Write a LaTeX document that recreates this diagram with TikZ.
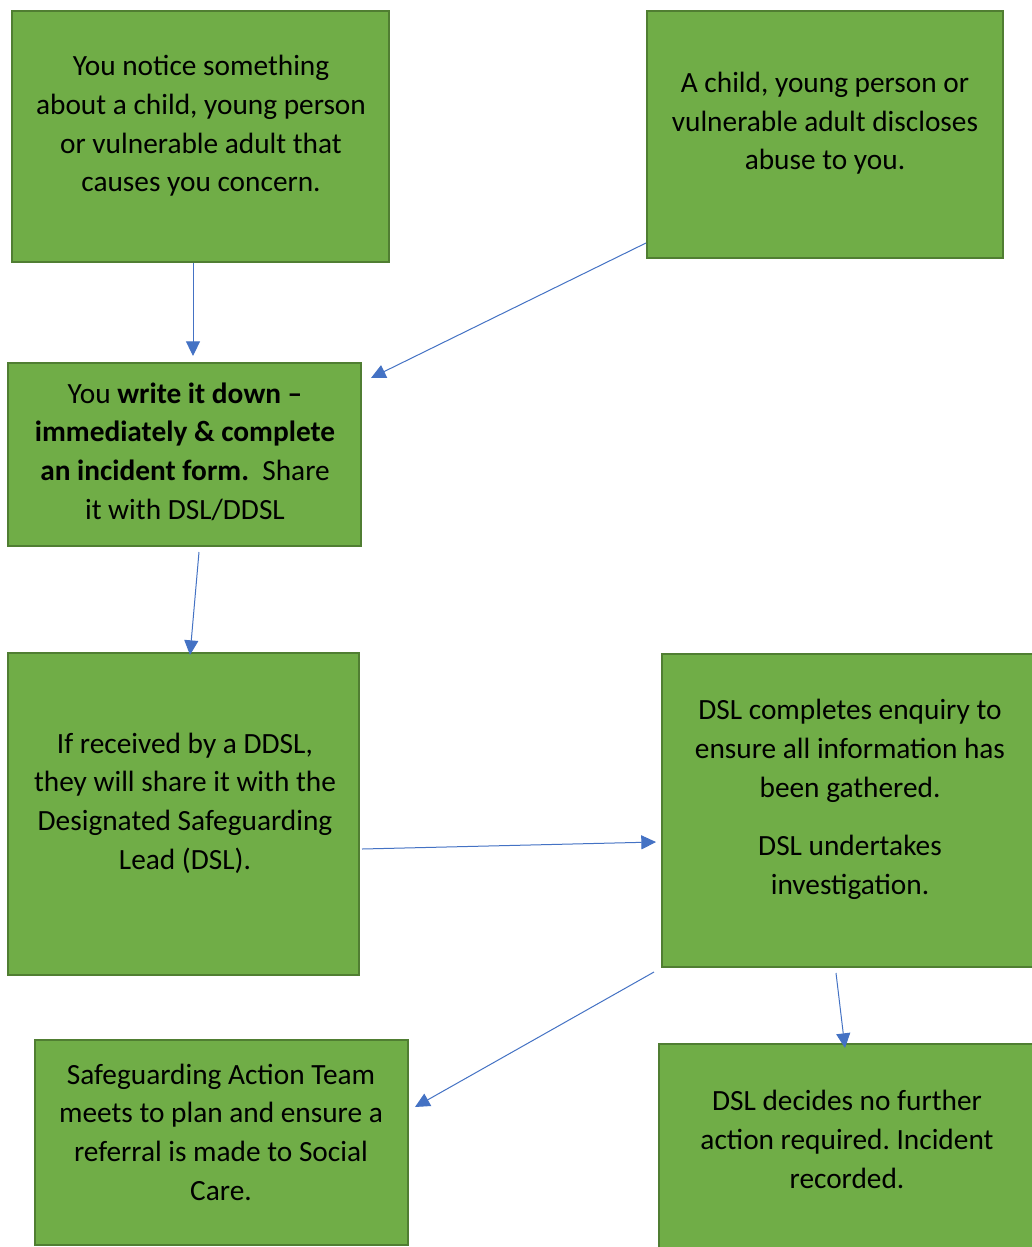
\documentclass[tikz,border=0pt]{standalone}
\usepackage{fontspec}
\setmainfont{Carlito}
\usetikzlibrary{fit,calc,arrows.meta}
\definecolor{boxfill}{HTML}{70AD47}
\definecolor{boxline}{HTML}{507E32}
\definecolor{arrowblue}{HTML}{4472C4}
\frenchspacing
\tikzset{
  gbox/.style={draw=boxline, fill=boxfill, line width=1.5pt, inner sep=0pt, rectangle},
  btext/.style={align=center, font=\fontsize{22}{29}\selectfont, inner sep=0pt},
  arr/.style={draw=arrowblue, line width=0.75pt, -{Triangle[length=11pt,width=10.5pt]}}
}
\begin{document}
\begin{tikzpicture}[x=0.75pt,y=-0.75pt]
\clip (0,0) rectangle (1032,1247);
\fill[white] (0,0) rectangle (1032,1247);
% boxes
\node[gbox, fit={(12,11)(389,262)}] (A) {};
\node[gbox, fit={(647,11)(1003,258)}] (B) {};
\node[gbox, fit={(8,363)(361,546)}] (C) {};
\node[gbox, fit={(8,653)(359,975)}] (D) {};
\node[gbox, fit={(662,654)(1040,967)}] (E) {};
\node[gbox, fit={(35,1040)(408,1245)}] (F) {};
\node[gbox, fit={(659,1044)(1040,1255)}] (G) {};
% texts
\node[btext] (At) at (201,126) {You notice something\\about a child, young person\\or vulnerable adult that\\causes you concern.};
\node[btext] (Bt) at (825,123.5) {A child, young person or\\vulnerable adult discloses\\abuse to you.};
\node[btext] (Ct) at (185,451.5) {You \textbf{write it down –}\\\textbf{immediately \& complete}\\\textbf{an incident form.}\ \ Share\\it with DSL/DDSL};
\node[btext] (Dt) at (185,803) {If received by a DDSL,\\they will share it with the\\Designated Safeguarding\\Lead (DSL).};
\node[btext] (Et) at (850,799.5) {DSL completes enquiry to\\ensure all information has\\been gathered.\\[15pt]DSL undertakes\\investigation.};
\node[btext] (Ft) at (221,1132) {Safeguarding Action Team\\meets to plan and ensure a\\referral is made to Social\\Care.};
\node[btext] (Gt) at (847,1139.5) {DSL decides no further\\action required. Incident\\recorded.};
% connectors
\draw[arr] ($(A.south)+(-7.5,0)$) -- ($(C.north)+(8.5,-6)$);
\draw[arr] ($(B.south west)+(0,-16)$) -- ($(C.north east)+(9,16)$);
\draw[arr] ($(C.south)+(14.5,5)$) -- ($(D.north)+(6.5,3)$);
\draw[arr] ($(D.east)+(2,35)$) -- ($(E.south west)+(-5,-126)$);
\draw[arr] ($(E.south west)+(-7,4)$) -- ($(F.east)+(6,-35.5)$);
\draw[arr] ($(E.south west)+(175,5)$) -- ($(G.north west)+(187,5)$);
\end{tikzpicture}
\end{document}
